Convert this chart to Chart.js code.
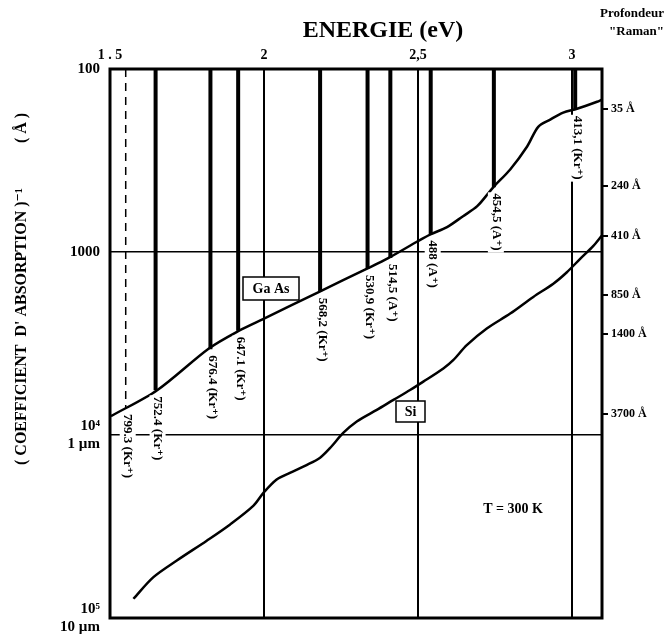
<!DOCTYPE html>
<html>
<head>
<meta charset="utf-8">
<script src="https://cdn.jsdelivr.net/npm/chart.js@4.4.1/dist/chart.umd.min.js"></script>
<style>
  html, body { margin: 0; padding: 0; background: #fff; }
  #wrap { width: 666px; height: 637px; }
</style>
</head>
<body>
<div id="wrap"><canvas id="myChart"></canvas></div>
<script>
// top axis: photon energy (eV)
const energyTicks = [1.5, 2, 2.5, 3];
const energyTickLabels = ['1 . 5', '2', '2,5', '3'];

// left axis: inverse absorption coefficient (Å)
const invAbsTicks = [100, 1000, 10000, 100000];
const invAbsTickLabels = ['100', '1000', ['10⁴', '1 µm'], ['10⁵', '10 µm']];

// right axis: Raman depth, placed where the GaAs curve meets each laser line
const depthTicks = [165, 438, 818, 1714, 2791, 7691];
const depthTickLabels = ['35 Å', '240 Å', '410 Å', '850 Å', '1400 Å', '3700 Å'];

// GaAs curve
const gaasEnergy = [1.503, 1.653, 1.821, 1.919, 2.0, 2.179, 2.331, 2.403, 2.5, 2.542, 2.594, 2.646, 2.692, 2.744, 2.799, 2.854, 2.890, 2.929, 2.971, 3.016, 3.081, 3.097];
const gaasInvAbs = [7890, 5690, 3365, 2690, 2310, 1650, 1240, 1080, 871, 798, 731, 637, 562, 443, 354, 265, 207, 189, 173, 165, 151, 147];

// Si curve
const siEnergy = [1.576, 1.641, 1.717, 1.814, 1.890, 1.965, 1.998, 2.041, 2.084, 2.138, 2.182, 2.214, 2.257, 2.301, 2.366, 2.420, 2.474, 2.517, 2.582, 2.614, 2.658, 2.723, 2.799, 2.874, 2.939, 2.983, 3.026, 3.069, 3.096];
const siInvAbs = [78500, 59800, 48500, 37800, 30800, 24400, 20700, 17500, 16100, 14600, 13300, 11800, 9750, 8430, 7290, 6430, 5680, 5110, 4330, 3900, 3230, 2620, 2170, 1760, 1490, 1290, 1090, 925, 815];

// laser lines (Kr+ and Ar+)
const laserNames = ['799.3 (Kr⁺)', '752.4 (Kr⁺)', '676.4 (Kr⁺)', '647.1 (Kr⁺)', '568,2 (Kr⁺)', '530,9 (Kr⁺)', '514,5 (A⁺)', '488 (A⁺)', '454,5 (A⁺)', '413,1 (Kr⁺)'];
const laserEnergy = [1.551, 1.648, 1.826, 1.916, 2.182, 2.336, 2.410, 2.541, 2.746, 3.010];
const laserEndValue = [7130, 5700, 3400, 2690, 1650, 1240, 1080, 800, 443, 167];

const serif = '"Liberation Serif", "DejaVu Serif", serif';

const datasets = [];
laserEnergy.forEach((e, i) => {
  const dashed = i === 0;
  datasets.push({
    label: laserNames[i],
    data: [{ x: e, y: 100 }, { x: e, y: laserEndValue[i] }],
    borderColor: '#000',
    borderWidth: dashed ? 1.5 : 4,
    borderDash: dashed ? [8, 6] : [],
    pointRadius: 0
  });
});
datasets.push({
  label: 'Ga As',
  data: gaasEnergy.map((e, i) => ({ x: e, y: gaasInvAbs[i] })),
  borderColor: '#000',
  borderWidth: 2.5,
  pointRadius: 0,
  tension: 0.3
});
datasets.push({
  label: 'Si',
  data: siEnergy.map((e, i) => ({ x: e, y: siInvAbs[i] })),
  borderColor: '#000',
  borderWidth: 2.5,
  pointRadius: 0,
  tension: 0.3
});

function boxedText(ctx, text, cx, cy, w, h) {
  ctx.fillStyle = '#fff';
  ctx.fillRect(cx - w / 2, cy - h / 2, w, h);
  ctx.strokeStyle = '#000';
  ctx.lineWidth = 1.5;
  ctx.strokeRect(cx - w / 2, cy - h / 2, w, h);
  ctx.fillStyle = '#000';
  ctx.textAlign = 'center';
  ctx.textBaseline = 'middle';
  ctx.fillText(text, cx, cy + 1);
}

const decorPlugin = {
  id: 'decor',
  afterDatasetsDraw(chart) {
    const ctx = chart.ctx;
    const a = chart.chartArea;
    const xs = chart.scales.x;
    const ys = chart.scales.y;
    ctx.save();

    // laser labels, rotated, under the end of each line
    ctx.font = 'bold 13px ' + serif;
    laserEnergy.forEach((e, i) => {
      const px = xs.getPixelForValue(e) + 2;
      const py = ys.getPixelForValue(laserEndValue[i]) + 6;
      const w = ctx.measureText(laserNames[i]).width;
      ctx.save();
      ctx.translate(px, py);
      ctx.rotate(Math.PI / 2);
      ctx.fillStyle = '#fff';
      ctx.fillRect(-1, -8, w + 3, 16);
      ctx.fillStyle = '#000';
      ctx.textAlign = 'left';
      ctx.textBaseline = 'middle';
      ctx.fillText(laserNames[i], 0, 0);
      ctx.restore();
    });

    // curve name boxes
    ctx.font = 'bold 14px ' + serif;
    boxedText(ctx, 'Ga As', 271, 288.5, 56, 23);
    boxedText(ctx, 'Si', 410.5, 411.5, 29, 21);

    ctx.fillStyle = '#000';
    ctx.textAlign = 'center';
    ctx.textBaseline = 'middle';
    ctx.fillText('T = 300 K', 513, 509);

    // frame
    ctx.strokeStyle = '#000';
    ctx.lineWidth = 3;
    ctx.strokeRect(a.left, a.top, a.right - a.left, a.bottom - a.top);

    // titles
    ctx.font = 'bold 24px ' + serif;
    ctx.fillText('ENERGIE (eV)', 383, 31);
    ctx.font = 'bold 13px ' + serif;
    ctx.textAlign = 'right';
    ctx.fillText('Profondeur', 664, 14);
    ctx.fillText('"Raman"', 664, 32);

    ctx.save();
    ctx.translate(22, 0);
    ctx.rotate(-Math.PI / 2);
    ctx.font = 'bold 16px ' + serif;
    ctx.textAlign = 'left';
    ctx.fillText('( COEFFICIENT  D\' ABSORPTION )⁻¹', -465, 0);
    ctx.textAlign = 'center';
    ctx.fillText('( Å )', -128, 0);
    ctx.restore();

    ctx.restore();
  }
};

const ctx = document.getElementById('myChart').getContext('2d');
const myChart = new Chart(ctx, {
  type: 'line',
  data: { datasets: datasets },
  plugins: [decorPlugin],
  options: {
    responsive: true,
    maintainAspectRatio: false,
    animation: false,
    layout: { padding: { top: 0, left: 0, right: 0, bottom: 17 } },
    plugins: { legend: { display: false }, tooltip: { enabled: false } },
    scales: {
      x: {
        type: 'linear',
        position: 'top',
        min: 1.5,
        max: 3.097,
        afterBuildTicks: s => { s.ticks = energyTicks.map(v => ({ value: v })); },
        afterFit: s => { s.height = 69; },
        ticks: {
          color: '#000',
          font: { family: serif, size: 14, weight: 'bold' },
          padding: 5,
          maxRotation: 0,
          callback: (v, i) => energyTickLabels[i]
        },
        grid: { color: '#000', lineWidth: 2, drawTicks: false },
        border: { display: false }
      },
      y: {
        type: 'logarithmic',
        position: 'left',
        reverse: true,
        min: 100,
        max: 100000,
        afterBuildTicks: s => { s.ticks = invAbsTicks.map(v => ({ value: v })); },
        afterFit: s => { s.width = 110; },
        ticks: {
          color: '#000',
          font: { family: serif, size: 15, weight: 'bold' },
          padding: 10,
          callback: (v, i) => invAbsTickLabels[i]
        },
        grid: { color: '#000', lineWidth: 1.5, drawTicks: false },
        border: { display: false }
      },
      y2: {
        type: 'logarithmic',
        position: 'right',
        reverse: true,
        min: 100,
        max: 100000,
        afterBuildTicks: s => { s.ticks = depthTicks.map(v => ({ value: v })); },
        afterFit: s => { s.width = 64; },
        ticks: {
          color: '#000',
          font: { family: serif, size: 12, weight: 'bold' },
          padding: 3,
          callback: (v, i) => depthTickLabels[i]
        },
        grid: { drawOnChartArea: false, color: '#000', lineWidth: 2, tickLength: 6 },
        border: { display: false }
      }
    }
  }
});
</script>
</body>
</html>
